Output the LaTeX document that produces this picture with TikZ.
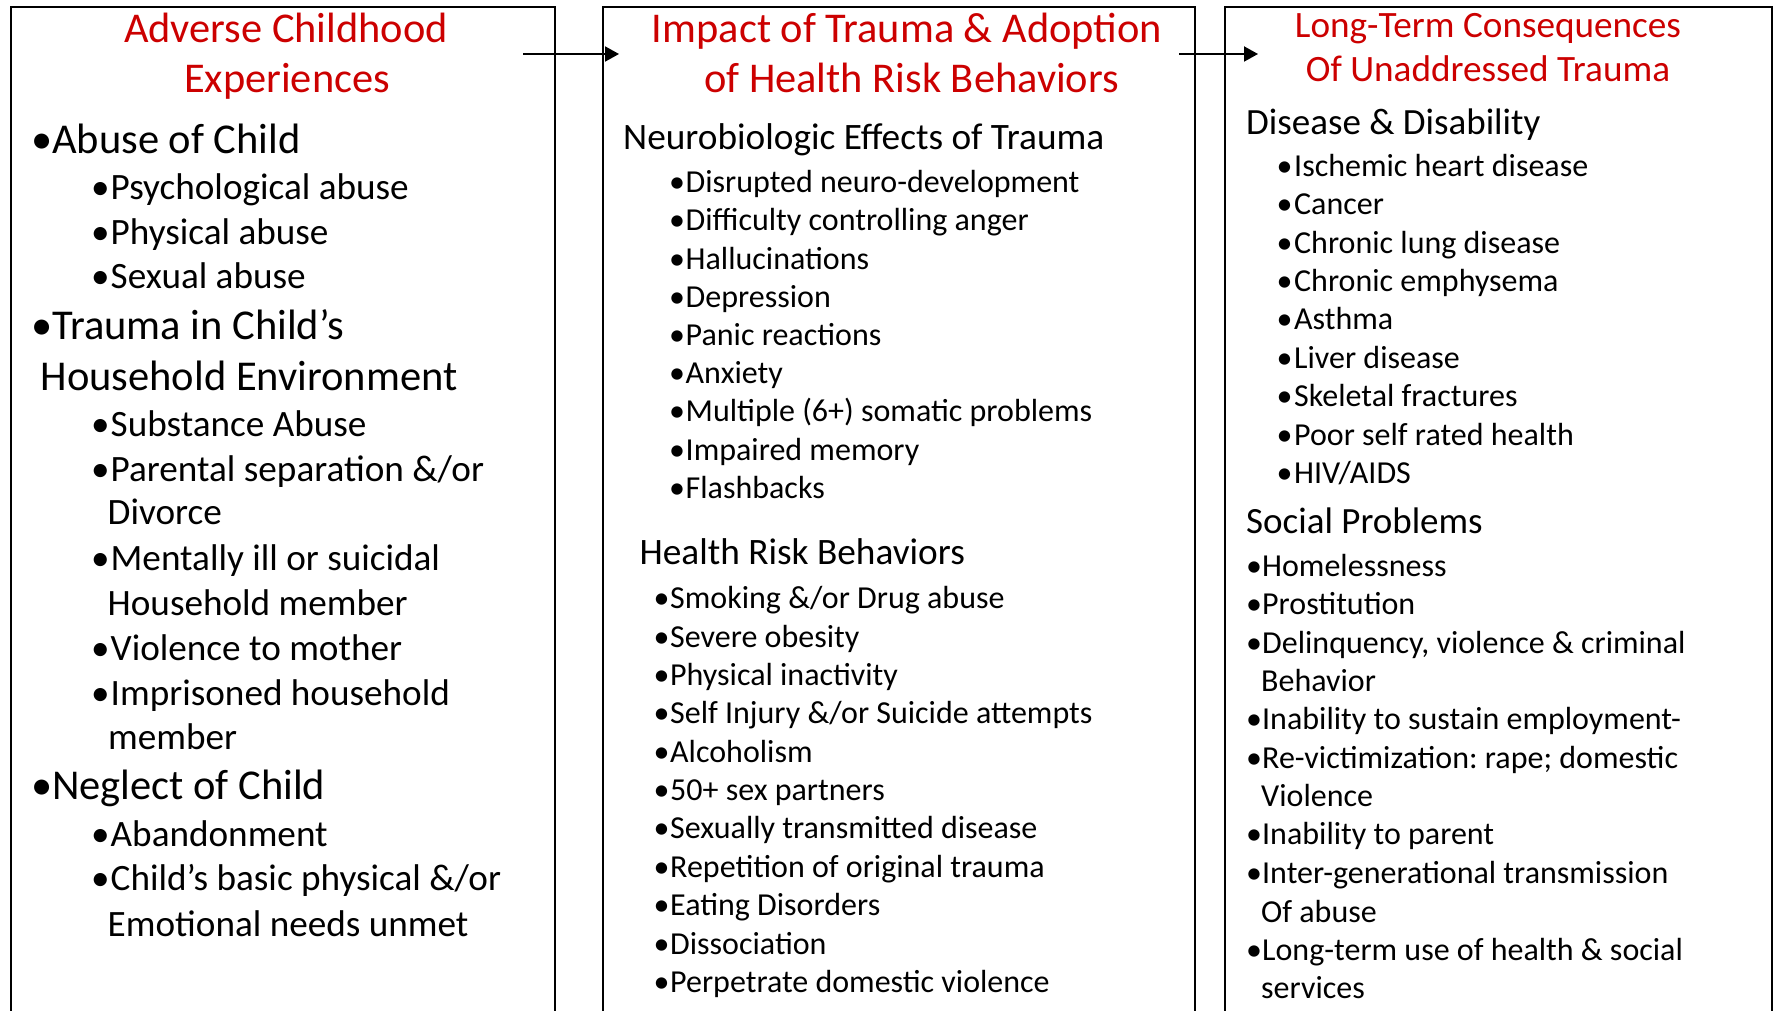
\documentclass[tikz,border=0pt]{standalone}
\usepackage{fontspec}
\setmainfont{Carlito}
\usetikzlibrary{arrows.meta}
\definecolor{titlered}{RGB}{204,0,0}
\frenchspacing
% bullet set in a box of fixed width, so the item text starts at a hanging indent
\newcommand\bulletbox[1]{\makebox[#1pt][l]{•}}

\tikzset{
  frame/.style={line width=2pt, draw=black},
  flow/.style={line width=2pt, -{Triangle[length=14pt,width=15pt]}},
  txt/.style={anchor=base west, inner sep=0pt, text=black},
  title/.style={anchor=base, inner sep=0pt, text=titlered, font=\fontsize{42.4}{50}\selectfont},
  smalltitle/.style={anchor=base, inner sep=0pt, text=titlered, font=\fontsize{37.2}{44}\selectfont},
  mainitem/.style={txt, font=\fontsize{42.5}{50}\selectfont},
  subitem/.style={txt, font=\fontsize{37.2}{44}\selectfont},
  midhead/.style={txt, font=\fontsize{37.3}{44}\selectfont},
  miditem/.style={txt, font=\fontsize{32}{38}\selectfont},
  righthead/.style={txt, font=\fontsize{37}{44}\selectfont},
  rightitem/.style={txt, font=\fontsize{32}{38}\selectfont},
}

\begin{document}
\begin{tikzpicture}[x=1pt, y=-1pt]
\useasboundingbox (0,0) rectangle (1774,1011);
\fill[white] (0,0) rectangle (1774,1011);

% three open-bottom panels
\draw[frame] (11,1011) |- (555,7) -- (555,1011);
\draw[frame] (603,1011) |- (1195,7) -- (1195,1011);
\draw[frame] (1225,1011) |- (1772,7) -- (1772,1011);

% flow arrows between the panels
\coordinate (a1s) at (523,54);
\coordinate (a1e) at (619,54);
\coordinate (a2s) at (1179,54);
\coordinate (a2e) at (1258,54);
\draw[flow] (a1s) -- (a1e);
\draw[flow] (a2s) -- (a2e);

% ---------- left panel ----------
\node[title] (t1a) at (286,43) {Adverse Childhood};
\node[title] (t1b) at (287,93) {Experiences};

\node[mainitem] (l1) at (31,154) {\bulletbox{21}Abuse of Child};
\node[subitem] (l2) at (91,199.5) {\bulletbox{19.5}Psychological abuse};
\node[subitem] (l3) at (91,244.5) {\bulletbox{19.5}Physical abuse};
\node[subitem] (l4) at (91,288.5) {\bulletbox{19.5}Sexual abuse};
\node[mainitem] (l5) at (31,339) {\bulletbox{21}Trauma in Child’s};
\node[mainitem] (l6) at (40.5,390) {Household Environment};
\node[subitem] (l7) at (91,436.5) {\bulletbox{19.5}Substance Abuse};
\node[subitem] (l8) at (91,481.5) {\bulletbox{19.5}Parental separation \&/or};
\node[subitem] (l9) at (107.5,524.5) {Divorce};
\node[subitem] (l10) at (91,570) {\bulletbox{19.5}Mentally ill or suicidal};
\node[subitem] (l11) at (107.5,615) {Household member};
\node[subitem] (l12) at (91,660.5) {\bulletbox{19.5}Violence to mother};
\node[subitem] (l13) at (91,705) {\bulletbox{19.5}Imprisoned household};
\node[subitem] (l14) at (108,749.5) {member};
\node[mainitem] (l15) at (31,799.5) {\bulletbox{21}Neglect of Child};
\node[subitem] (l16) at (91,846.5) {\bulletbox{19.5}Abandonment};
\node[subitem] (l17) at (91,890.5) {\bulletbox{19.5}Child’s basic physical \&/or};
\node[subitem] (l18) at (107.5,936) {Emotional needs unmet};

% ---------- middle panel ----------
\node[title] (t2a) at (907,43) {Impact of Trauma \& Adoption};
\node[title] (t2b) at (911.6,93) {of Health Risk Behaviors};

\node[midhead] (m0) at (623,149.3) {Neurobiologic Effects of Trauma};
\node[miditem] (m1) at (669,192.3) {\bulletbox{16.5}Disrupted neuro-development};
\node[miditem] (m2) at (669,230.3) {\bulletbox{16.5}Difficulty controlling anger};
\node[miditem] (m3) at (669,269.3) {\bulletbox{16.5}Hallucinations};
\node[miditem] (m4) at (669,307.3) {\bulletbox{16.5}Depression};
\node[miditem] (m5) at (669,345.3) {\bulletbox{16.5}Panic reactions};
\node[miditem] (m6) at (669,383.3) {\bulletbox{16.5}Anxiety};
\node[miditem] (m7) at (669,421.8) {\bulletbox{16.5}Multiple (6+) somatic problems};
\node[miditem] (m8) at (669,460.3) {\bulletbox{16.5}Impaired memory};
\node[miditem] (m9) at (669,498.3) {\bulletbox{16.5}Flashbacks};

\node[midhead] (h0) at (639.4,564.5) {Health Risk Behaviors};
\node[miditem] (h1) at (653.5,608.8) {\bulletbox{16.5}Smoking \&/or Drug abuse};
\node[miditem] (h2) at (653.5,647.2) {\bulletbox{16.5}Severe obesity};
\node[miditem] (h3) at (653.5,685.5) {\bulletbox{16.5}Physical inactivity};
\node[miditem] (h4) at (653.5,723.9) {\bulletbox{16.5}Self Injury \&/or Suicide attempts};
\node[miditem] (h5) at (653.5,762.2) {\bulletbox{16.5}Alcoholism};
\node[miditem] (h6) at (653.5,800.6) {\bulletbox{16.5}50+ sex partners};
\node[miditem] (h7) at (653.5,838.9) {\bulletbox{16.5}Sexually transmitted disease};
\node[miditem] (h8) at (653.5,877.3) {\bulletbox{16.5}Repetition of original trauma};
\node[miditem] (h9) at (653.5,915.6) {\bulletbox{16.5}Eating Disorders};
\node[miditem] (h10) at (653.5,954) {\bulletbox{16.5}Dissociation};
\node[miditem] (h11) at (653.5,992.3) {\bulletbox{16.5}Perpetrate domestic violence};

% ---------- right panel ----------
\node[smalltitle] (t3a) at (1488,38) {Long-Term Consequences};
\node[smalltitle] (t3b) at (1488,82) {Of Unaddressed Trauma};

\node[righthead] (d0) at (1246,134.3) {Disease \& Disability};
\node[rightitem] (d1) at (1276.5,176.5) {\bulletbox{17.5}Ischemic heart disease};
\node[rightitem] (d2) at (1276.5,214.5) {\bulletbox{17.5}Cancer};
\node[rightitem] (d3) at (1276.5,253.5) {\bulletbox{17.5}Chronic lung disease};
\node[rightitem] (d4) at (1276.5,291.5) {\bulletbox{17.5}Chronic emphysema};
\node[rightitem] (d5) at (1276.5,329.5) {\bulletbox{17.5}Asthma};
\node[rightitem] (d6) at (1276.5,368.5) {\bulletbox{17.5}Liver disease};
\node[rightitem] (d7) at (1276.5,406.5) {\bulletbox{17.5}Skeletal fractures};
\node[rightitem] (d8) at (1276.5,445) {\bulletbox{17.5}Poor self rated health};
\node[rightitem] (d9) at (1276.5,483.5) {\bulletbox{17.5}HIV/AIDS};

\node[righthead] (s0) at (1246,533.2) {Social Problems};
\node[rightitem] (s1) at (1246,576.2) {\bulletbox{16}Homelessness};
\node[rightitem] (s2) at (1246,614.2) {\bulletbox{16}Prostitution};
\node[rightitem] (s3) at (1246,653.2) {\bulletbox{16}Delinquency, violence \& criminal};
\node[rightitem] (s4) at (1261,691.2) {Behavior};
\node[rightitem] (s5) at (1246,729.2) {\bulletbox{16}Inability to sustain employment-};
\node[rightitem] (s6) at (1246,768.2) {\bulletbox{16}Re-victimization: rape; domestic};
\node[rightitem] (s7) at (1261,806.2) {Violence};
\node[rightitem] (s8) at (1246,844.7) {\bulletbox{16}Inability to parent};
\node[rightitem] (s9) at (1246,883.2) {\bulletbox{16}Inter-generational transmission};
\node[rightitem] (s10) at (1261,922) {Of abuse};
\node[rightitem] (s11) at (1246,960.5) {\bulletbox{16}Long-term use of health \& social};
\node[rightitem] (s12) at (1261,998.5) {services};
\end{tikzpicture}
\end{document}
